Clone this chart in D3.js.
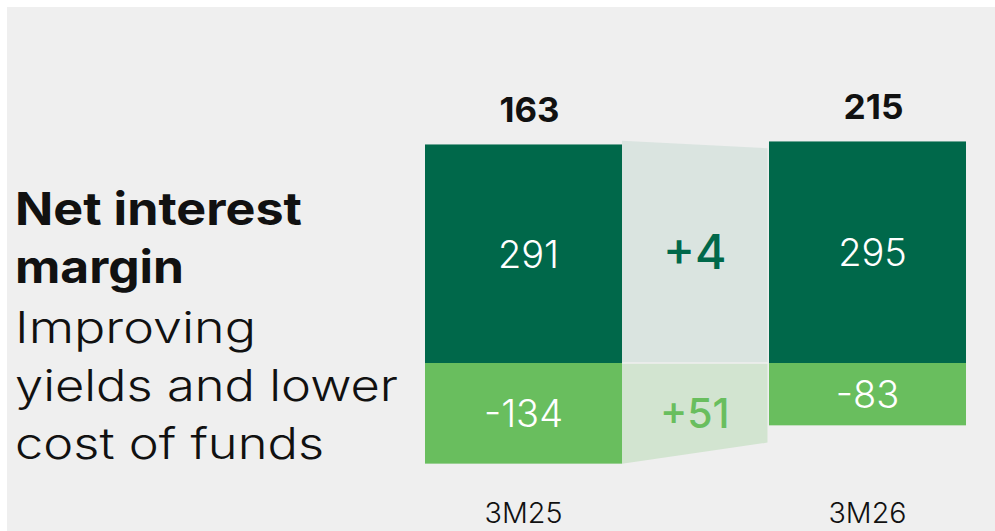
<!DOCTYPE html>
<html>
<head>
<meta charset="utf-8">
<script src="https://cdn.jsdelivr.net/npm/d3@7/dist/d3.min.js"></script>
<style>
  html, body { margin: 0; padding: 0; background: #ffffff; }
  svg { display: block; }
  text { font-family: Inter, Lato, "Open Sans", sans-serif; }
</style>
</head>
<body>
<svg id="chart" width="995" height="531"></svg>
<script>
// Periods and the two components of net interest margin (bps)
const categories = ["3M25", "3M26"];
const totals = [163, 215];          // net interest margin
const assetYield = [291, 295];      // upper component
const fundingCost = [-134, -83];    // lower component
// Edges of the shaded bridge between the two columns (value at left, value at right)
const bridgeTop = [296, 286];
const bridgeBottom = [-134, -106];

const titleLines = ["Net interest", "margin"];
const subtitleLines = ["Improving", "yields and lower", "cost of funds"];

const C = {
  bg: "#efefef",
  dark: "#00684a",
  light: "#69be5e",
  bridgeDark: "#dae4e0",
  bridgeLight: "#d2e4d0",
  text: "#111111"
};

const svg = d3.select("#chart");
const W = 995, H = 531;

svg.append("rect").attr("x", 7).attr("y", 7)
  .attr("width", W - 7).attr("height", H - 7).attr("fill", C.bg);

const x = d3.scaleBand().domain(categories).range([425, 966])
  .paddingInner(0.4273).paddingOuter(0);
const y = d3.scaleLinear().domain([-150, 300])
  .range([363 + 150 * 0.751, 363 - 300 * 0.751]);

const bw = x.bandwidth();
const capH = 0.727; // cap height ratio of the font

// bridge between columns
const bx0 = x(categories[0]) + bw;
const bx1 = x(categories[1]) - 1.5;
svg.append("path")
  .attr("d", d3.line()([[bx0, y(bridgeTop[0])], [bx1, y(bridgeTop[1])],
                       [bx1, y(0) - 0.8], [bx0, y(0) - 0.8]]) + "Z")
  .attr("fill", C.bridgeDark);
svg.append("path")
  .attr("d", d3.line()([[bx0, y(0) + 0.8], [bx1, y(0) + 0.8],
                       [bx1, y(bridgeBottom[1])], [bx0, y(bridgeBottom[0])]]) + "Z")
  .attr("fill", C.bridgeLight);

// columns
const cols = categories.map((c, i) => ({ c, top: assetYield[i], bottom: fundingCost[i], total: totals[i] }));

svg.selectAll("rect.up").data(cols).join("rect")
  .attr("class", "up")
  .attr("x", d => x(d.c)).attr("width", bw)
  .attr("y", d => y(d.top)).attr("height", d => y(0) - y(d.top))
  .attr("fill", C.dark);

svg.selectAll("rect.down").data(cols).join("rect")
  .attr("class", "down")
  .attr("x", d => x(d.c)).attr("width", bw)
  .attr("y", y(0)).attr("height", d => y(d.bottom) - y(0))
  .attr("fill", C.light);

// values inside the columns
const fsIn = 38;
svg.selectAll("text.up").data(cols).join("text")
  .attr("class", "up")
  .attr("x", d => x(d.c) + bw / 2 + 5)
  .attr("y", d => (y(d.top) + y(0)) / 2 + fsIn * capH / 2)
  .attr("text-anchor", "middle").attr("fill", "#ffffff")
  .attr("font-size", fsIn).attr("font-weight", 300)
  .text(d => d.top);

svg.selectAll("text.down").data(cols).join("text")
  .attr("class", "down")
  .attr("x", d => x(d.c) + bw / 2)
  .attr("y", d => (y(d.bottom) + y(0)) / 2 + fsIn * capH / 2)
  .attr("text-anchor", "middle").attr("fill", "#ffffff")
  .attr("font-size", fsIn).attr("font-weight", 300)
  .text(d => d.bottom);

// totals above the columns
const fsTot = 34;
svg.selectAll("text.total").data(cols).join("text")
  .attr("class", "total")
  .attr("x", d => x(d.c) + bw / 2 + 6)
  .attr("y", d => y(d.top) - 22)
  .attr("text-anchor", "middle").attr("fill", C.text)
  .attr("font-size", fsTot).attr("font-weight", 700)
  .attr("textLength", 60).attr("lengthAdjust", "spacingAndGlyphs")
  .text(d => d.total);

// period labels
svg.selectAll("text.cat").data(categories).join("text")
  .attr("class", "cat")
  .attr("x", d => x(d) + bw / 2)
  .attr("y", 522.7)
  .attr("text-anchor", "middle").attr("fill", C.text)
  .attr("font-size", 28).attr("font-weight", 300)
  .attr("textLength", 78).attr("lengthAdjust", "spacingAndGlyphs")
  .text(d => d);

// changes across the bridge
const fmt = d3.format("+");
const bmid = (bx0 + bx1) / 2;
const fsUp = 48, fsDn = 41;
svg.append("text")
  .attr("x", bmid)
  .attr("y", (y(bridgeTop[0]) + y(0)) / 2 + fsUp * capH / 2)
  .attr("text-anchor", "middle").attr("fill", C.dark)
  .attr("font-size", fsUp).attr("font-weight", 500)
  .text(fmt(assetYield[1] - assetYield[0]));
svg.append("text")
  .attr("x", bmid)
  .attr("y", (y(bridgeBottom[0]) + y(0)) / 2 + fsDn * capH / 2)
  .attr("text-anchor", "middle").attr("fill", C.light)
  .attr("font-size", fsDn).attr("font-weight", 500)
  .text(fmt(fundingCost[1] - fundingCost[0]));

// headline text on the left
const titleW = [287, 169];
titleLines.forEach((t, i) => {
  svg.append("text")
    .attr("x", 15).attr("y", 225 + i * 58.3)
    .attr("fill", C.text).attr("font-size", 45).attr("font-weight", 700)
    .attr("textLength", titleW[i]).attr("lengthAdjust", "spacingAndGlyphs")
    .text(t);
});
const subW = [241, 383, 309];
subtitleLines.forEach((t, i) => {
  svg.append("text")
    .attr("x", 15).attr("y", 342.7 + i * 58)
    .attr("fill", C.text).attr("font-size", 43).attr("font-weight", 300)
    .attr("textLength", subW[i]).attr("lengthAdjust", "spacingAndGlyphs")
    .text(t);
});
</script>
</body>
</html>
